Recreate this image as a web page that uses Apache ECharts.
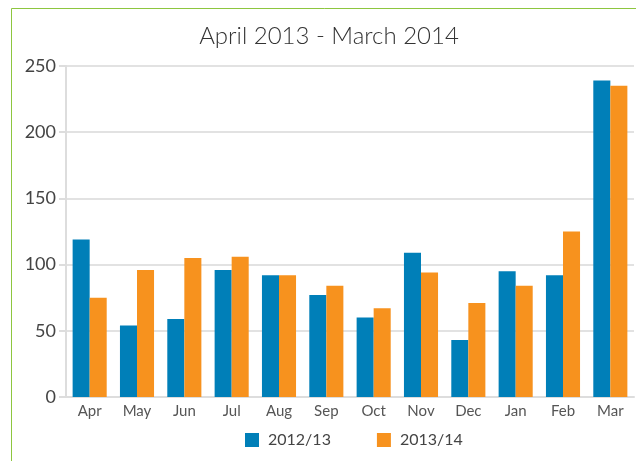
<!DOCTYPE html>
<html>
<head>
<meta charset="utf-8">
<script src="https://cdn.jsdelivr.net/npm/echarts@6/dist/echarts.min.js"></script>
<style>
  html, body { margin: 0; padding: 0; background: #fff; }
  #ch-main { width: 636px; height: 461px; }
</style>
</head>
<body>
<div id="ch-main"></div>
<script>
let months = ['Apr', 'May', 'Jun', 'Jul', 'Aug', 'Sep', 'Oct', 'Nov', 'Dec', 'Jan', 'Feb', 'Mar']
let season1 = [119, 54, 59, 96, 92, 77, 60, 109, 43, 95, 92, 239]
let season2 = [75, 96, 105, 106, 92, 84, 67, 94, 71, 84, 125, 235]
let seriesNames = ['2012/13', '2013/14']

let main = echarts.init(document.getElementById('ch-main'));
let font = 'Lato, "Open Sans", sans-serif'

let option = {
    animation: false,
    textStyle: { fontFamily: font },
    // green frame top/left
    graphic: [{
        type: 'rect',
        shape: { x: 11.5, y: 8.5, width: 800, height: 600 },
        style: { fill: 'none', stroke: '#8dc63f', lineWidth: 1 },
        silent: true
    }],
    title: {
        text: 'April 2013 - March 2014',
        left: 324,
        textAlign: 'center',
        top: 19,
        textStyle: { fontFamily: font, fontWeight: 300, fontSize: 24, color: '#333' }
    },
    legend: {
        data: seriesNames,
        left: 240,
        top: 427,
        itemWidth: 14,
        itemHeight: 14,
        itemGap: 46,
        icon: 'rect',
        textStyle: { fontFamily: font, fontSize: 16, color: '#444', padding: [0, 0, 0, 4] }
    },
    grid: { left: 66, right: 2, top: 66, bottom: 64 },
    xAxis: {
        type: 'category',
        data: months,
        axisLine: { lineStyle: { color: '#ddd', width: 2 } },
        axisTick: { show: false },
        axisLabel: { fontFamily: font, fontSize: 15, color: '#555', margin: 7 }
    },
    yAxis: {
        type: 'value',
        min: 0,
        max: 250,
        interval: 50,
        axisLine: { show: true, lineStyle: { color: '#ddd', width: 2 } },
        axisTick: { show: true, length: 7, lineStyle: { color: '#ddd', width: 2 } },
        splitLine: { lineStyle: { color: '#e2e2e2', width: 2 } },
        axisLabel: { fontFamily: font, fontSize: 18, color: '#444', margin: 10 }
    },
    series: [
        {
            name: seriesNames[0],
            type: 'bar',
            data: season1,
            barGap: '0%',
            barCategoryGap: '28%',
            itemStyle: { color: '#007fb8' }
        },
        {
            name: seriesNames[1],
            type: 'bar',
            data: season2,
            barGap: '0%',
            barCategoryGap: '28%',
            itemStyle: { color: '#f7921e' }
        }
    ]
};

main.setOption(option);
</script>
</body>
</html>
